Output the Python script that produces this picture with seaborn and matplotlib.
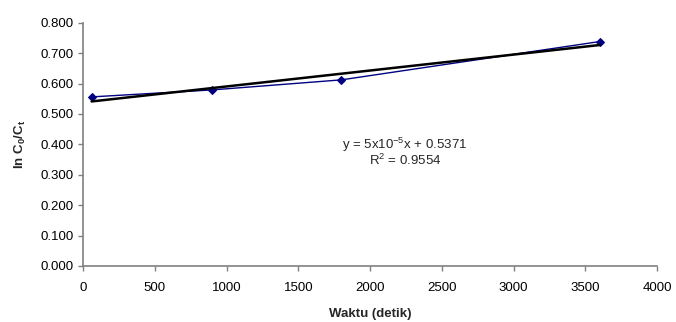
import numpy as np
import pandas as pd
import matplotlib
matplotlib.use("Agg")
import matplotlib.pyplot as plt
import seaborn as sns

# data
waktu = [60, 900, 1800, 3600]
ln_c0_ct = [0.556, 0.579, 0.612, 0.738]
x_ticks = [0, 500, 1000, 1500, 2000, 2500, 3000, 3500, 4000]
y_ticks = [0.0, 0.1, 0.2, 0.3, 0.4, 0.5, 0.6, 0.7, 0.8]

sns.set_style("ticks")
plt.rcParams["font.family"] = ["Liberation Sans", "DejaVu Sans"]
plt.rcParams["mathtext.fontset"] = "custom"
plt.rcParams["mathtext.rm"] = "Liberation Sans"
plt.rcParams["mathtext.it"] = "Liberation Sans"
plt.rcParams["mathtext.bf"] = "Liberation Sans:bold"

df = pd.DataFrame({"waktu": waktu, "ln": ln_c0_ct})

# linear trendline (least squares)
slope, intercept = np.polyfit(df["waktu"], df["ln"], 1)
trend = pd.DataFrame({"waktu": [waktu[0], waktu[-1]]})
trend["ln"] = slope * trend["waktu"] + intercept

fig = plt.figure(figsize=(6.76, 3.22), dpi=100)
ax = fig.add_axes([0.1228, 0.174, 0.8492, 0.7555])

sns.lineplot(data=df, x="waktu", y="ln", ax=ax, color="#000080", linewidth=1.0,
             marker="D", markersize=4.2, markeredgecolor="#000080")
sns.lineplot(data=trend, x="waktu", y="ln", ax=ax, color="black", linewidth=1.8)

ax.set_xlim(0, 4000)
ax.set_ylim(0, 0.8)
ax.set_xticks(x_ticks)
ax.set_yticks(y_ticks)
ax.set_yticklabels([f"{v:.3f}" for v in y_ticks])
ax.tick_params(axis="both", labelsize=9.5, length=3.5, width=1, color="#808080", labelcolor="black")
ax.tick_params(axis="x", pad=8)
ax.tick_params(axis="y", pad=3)

for side in ["top", "right"]:
    ax.spines[side].set_visible(False)
for side in ["left", "bottom"]:
    ax.spines[side].set_color("#808080")
    ax.spines[side].set_linewidth(1.2)

ax.set_xlabel("Waktu (detik)", fontsize=9.5, fontweight="bold", labelpad=10)
ax.set_ylabel(r"ln C$\mathbf{_0}$/C$\mathbf{_t}$", fontsize=9.5, fontweight="bold", labelpad=9)

ax.text(2244, 0.398, r"y = 5x10$^{-5}$x + 0.5371", ha="center", va="center", fontsize=9.5)
ax.text(2244, 0.346, r"R$^{2}$ = 0.9554", ha="center", va="center", fontsize=9.5)

plt.savefig("out.png", dpi=100)
plt.close()
